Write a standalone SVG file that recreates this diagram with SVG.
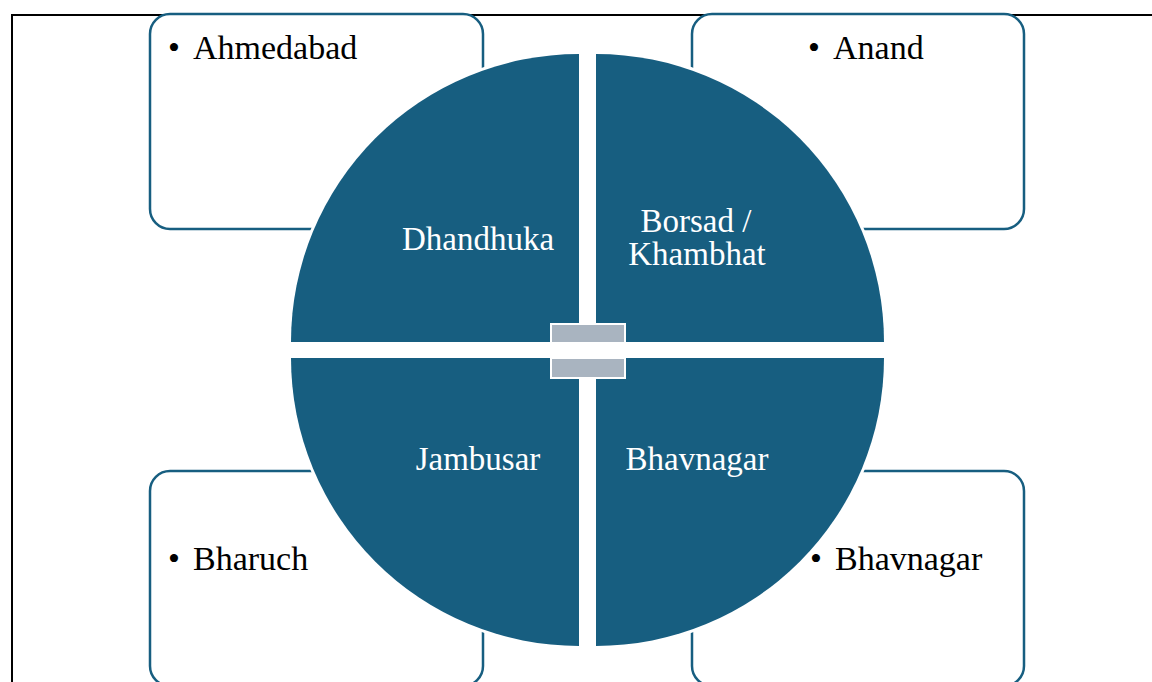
<svg xmlns="http://www.w3.org/2000/svg" width="1152" height="682" viewBox="0 0 1152 682">
  <style>
    .frame { fill: none; stroke: #000000; stroke-width: 2; }
    .box { fill: #ffffff; stroke: #175E80; stroke-width: 2.5; }
    .quad { fill: #175E80; stroke: #ffffff; stroke-width: 6; paint-order: stroke; }
    .hub { fill: #A9B4C0; stroke: #ffffff; stroke-width: 2; }
    .item { font-family: "Liberation Serif", "Times New Roman", serif; font-size: 34px; fill: #000000; }
    .label { font-family: "Liberation Serif", "Times New Roman", serif; font-size: 33px; fill: #ffffff; text-anchor: middle; }
  </style>

  <!-- page frame -->
  <path class="frame" d="M12,690 L12,15 L1160,15"/>

  <!-- outer detail boxes -->
  <g id="box-ahmedabad">
    <rect class="box" x="150" y="14" width="333" height="215" rx="20" ry="20"/>
    <text class="item" x="168" y="59">•</text>
    <text class="item" x="193" y="59">Ahmedabad</text>
  </g>
  <g id="box-anand">
    <rect class="box" x="692" y="14" width="332" height="215" rx="20" ry="20"/>
    <text class="item" x="808" y="59">•</text>
    <text class="item" x="833" y="59">Anand</text>
  </g>
  <g id="box-bharuch">
    <rect class="box" x="150" y="471" width="333" height="215" rx="20" ry="20"/>
    <text class="item" x="168" y="570">•</text>
    <text class="item" x="193" y="570">Bharuch</text>
  </g>
  <g id="box-bhavnagar">
    <rect class="box" x="692" y="471" width="332" height="215" rx="20" ry="20"/>
    <text class="item" x="810" y="570">•</text>
    <text class="item" x="835" y="570">Bhavnagar</text>
  </g>

  <!-- circle quadrants -->
  <g id="quad-dhandhuka">
    <path class="quad" d="M579,342 L291,342 A288,288 0 0 1 579,54 Z"/>
    <text class="label" x="478" y="250">Dhandhuka</text>
  </g>
  <g id="quad-borsad">
    <path class="quad" d="M596,342 L596,54 A288,288 0 0 1 884,342 Z"/>
    <text class="label" x="696" y="232">Borsad /</text>
    <text class="label" x="697" y="265">Khambhat</text>
  </g>
  <g id="quad-jambusar">
    <path class="quad" d="M579,358 L579,646 A288,288 0 0 1 291,358 Z"/>
    <text class="label" x="478" y="470">Jambusar</text>
  </g>
  <g id="quad-bhavnagar">
    <path class="quad" d="M596,358 L884,358 A288,288 0 0 1 596,646 Z"/>
    <text class="label" x="697" y="470">Bhavnagar</text>
  </g>

  <!-- central cycle connectors -->
  <g id="connectors">
    <rect class="hub" x="551" y="324" width="74" height="19"/>
    <rect class="hub" x="551" y="358" width="74" height="20"/>
  </g>
</svg>
